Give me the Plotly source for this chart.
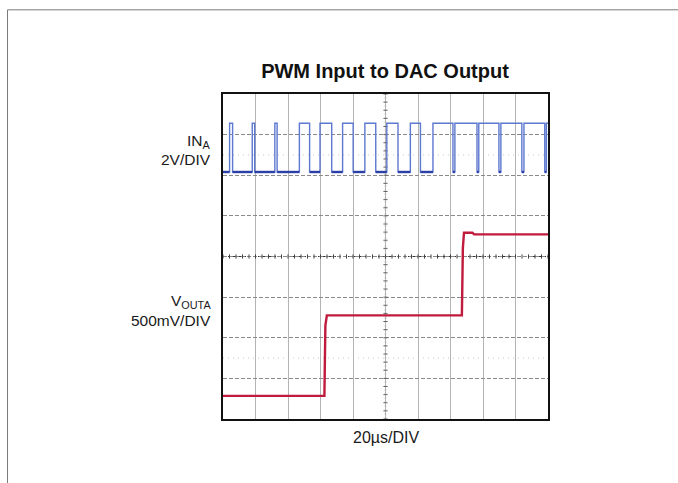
import plotly.graph_objects as go
import numpy as np

# Time base: 20 us per division, 10 divisions across
X_RANGE_US = [0, 200]
# Vertical axis expressed in graticule divisions (8 divisions)
Y_RANGE_DIV = [0, 8]

# PWM input (IN_A): starts low, edges alternate rise / fall (us)
in_edges_us = [4.05, 5.9, 18.0, 19.5, 31.9, 33.3,
               47.0, 53.3, 59.7, 66.9, 73.6, 80.1, 87.3, 94.0,
               100.8, 107.7, 115.3, 121.5,
               129.2, 141.5, 142.7, 156.3, 157.4, 169.8, 171.0, 183.9,
               185.2, 198.0, 199.0]
in_low_div = 6.08
in_high_div = 7.28

# DAC output (VOUTA) samples: time (us) and level (div)
out_t_us = [0, 62.4, 63.0, 63.9, 147.0, 147.6, 148.3, 153.5, 154.5, 200]
out_v_div = [0.57, 0.57, 2.3, 2.55, 2.55, 4.2, 4.585, 4.585, 4.545, 4.545]

# Build the square-wave path from the edge list
in_x, in_y = [X_RANGE_US[0]], [in_low_div]
level = in_low_div
for t in in_edges_us:
    in_x.append(t); in_y.append(level)
    level = in_high_div if level == in_low_div else in_low_div
    in_x.append(t); in_y.append(level)
in_x.append(X_RANGE_US[1]); in_y.append(level)

# Low segments only (drawn heavier, as the scope trace shows)
low_x, low_y = [], []
for i in range(len(in_x) - 1):
    if in_y[i] == in_low_div and in_y[i + 1] == in_low_div:
        low_x += [in_x[i], in_x[i + 1], None]
        low_y += [in_low_div, in_low_div, None]

fig = go.Figure()

# Graticule: faint dotted half-division rows
for yv in [1.5, 6.5]:
    fig.add_shape(type="line", x0=0, x1=200, y0=yv, y1=yv, xref="x", yref="y",
                  line=dict(color="#c8c8c8", width=1, dash="1px,4px"), layer="below")
# Centre cross lines
fig.add_shape(type="line", x0=0, x1=200, y0=4, y1=4, xref="x", yref="y",
              line=dict(color="#333333", width=1.2, dash="3px,2px"), layer="below")
fig.add_shape(type="line", x0=100, x1=100, y0=0, y1=8, xref="x", yref="y",
              line=dict(color="#666666", width=1.2, dash="2px,2px"), layer="below")

# Minor tick marks along the centre lines
hx = np.arange(0, 200.01, 4.0)
fig.add_trace(go.Scatter(x=hx, y=[4] * len(hx), mode="markers",
                         marker=dict(symbol="line-ns-open", size=3, color="#444444",
                                     line=dict(color="#444444", width=1)),
                         hoverinfo="skip", showlegend=False))
vy = np.arange(0, 8.01, 0.2)
fig.add_trace(go.Scatter(x=[100] * len(vy), y=vy, mode="markers",
                         marker=dict(symbol="line-ew-open", size=3, color="#666666",
                                     line=dict(color="#666666", width=1)),
                         hoverinfo="skip", showlegend=False))

# IN_A trace
fig.add_trace(go.Scatter(x=in_x, y=in_y, mode="lines",
                         line=dict(color="#5d78cf", width=1.4),
                         hoverinfo="skip", showlegend=False))
fig.add_trace(go.Scatter(x=low_x, y=low_y, mode="lines",
                         line=dict(color="#2c3fa6", width=2.4),
                         hoverinfo="skip", showlegend=False))

# VOUTA trace
fig.add_trace(go.Scatter(x=out_t_us, y=out_v_div, mode="lines",
                         line=dict(color="#c01b3c", width=2.4),
                         hoverinfo="skip", showlegend=False))

label_font = dict(family="Liberation Sans, Arial", size=15.5, color="#1a1a1a")

annotations = [
    dict(text="IN<sub>A</sub>", x=0, y=6.82, xshift=-10),
    dict(text="2V/DIV", x=0, y=6.38, xshift=-10),
    dict(text="V<sub>OUTA</sub>", x=0, y=2.89, xshift=-10),
    dict(text="500mV/DIV", x=0, y=2.42, xshift=-10),
]
for a in annotations:
    fig.add_annotation(text=a["text"], xref="paper", yref="y", x=a["x"], y=a["y"],
                       xshift=a["xshift"], xanchor="right", yanchor="middle",
                       showarrow=False, font=label_font)

fig.add_annotation(text="20µs/DIV", xref="paper", yref="paper", x=0.5, y=0,
                   yshift=-18, xanchor="center", yanchor="middle",
                   showarrow=False, font=dict(label_font, size=16))

# Outer panel border
fig.add_shape(type="line", xref="paper", yref="paper", x0=-0.663, x1=-0.663, y0=-1, y1=1.259,
              line=dict(color="#7a7a7a", width=1))
fig.add_shape(type="line", xref="paper", yref="paper", x0=-0.663, x1=2, y0=1.259, y1=1.259,
              line=dict(color="#7a7a7a", width=1))

fig.update_layout(
    width=678, height=483,
    margin=dict(l=223, r=130, t=94, b=64),
    paper_bgcolor="white", plot_bgcolor="white",
    title=dict(text="<b>PWM Input to DAC Output</b>", x=385 / 678, xanchor="center",
               y=1 - 71 / 483, yanchor="middle",
               font=dict(family="Liberation Sans, Arial", size=20, color="#111111")),
    xaxis=dict(range=X_RANGE_US, dtick=20, tick0=0, showgrid=True, gridcolor="#b4b4b4", gridwidth=1,
               showticklabels=False, ticks="", zeroline=False,
               showline=True, linecolor="#111111", linewidth=2, mirror=True, fixedrange=True),
    yaxis=dict(range=Y_RANGE_DIV, dtick=1, tick0=0, showgrid=True, gridcolor="#8a8a8a", gridwidth=1,
               griddash="4px,2px", showticklabels=False, ticks="", zeroline=False,
               showline=True, linecolor="#111111", linewidth=2, mirror=True, fixedrange=True),
    showlegend=False,
)

fig.write_html("out.html")
